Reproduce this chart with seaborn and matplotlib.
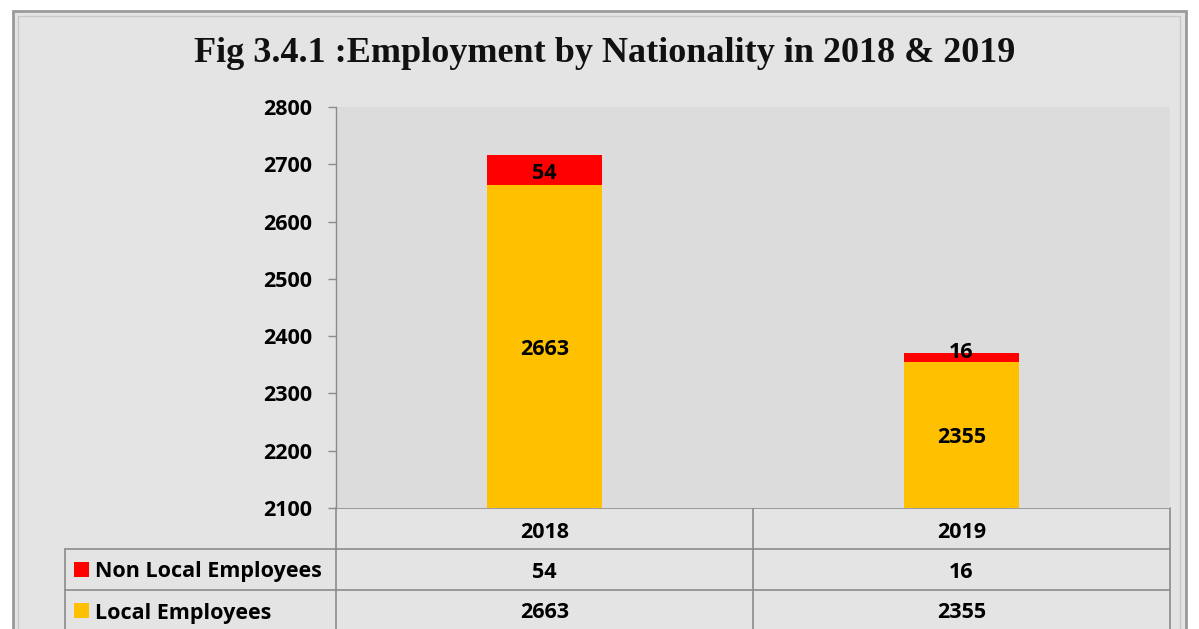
import matplotlib
matplotlib.use("Agg")
import matplotlib.pyplot as plt
import seaborn as sns
import pandas as pd
from matplotlib.patches import Rectangle
from matplotlib.transforms import offset_copy

years = ["2018", "2019"]
local_employees = [2663, 2355]
non_local_employees = [54, 16]
series_names = ["Non Local Employees", "Local Employees"]
title = "Fig 3.4.1 :Employment by Nationality in 2018 & 2019"
yticks = [2100, 2200, 2300, 2400, 2500, 2600, 2700, 2800]

sns.set_theme(style="white")
plt.rcParams['font.family'] = ['Open Sans', 'DejaVu Sans']

W, H = 1199, 629
fig = plt.figure(figsize=(W / 100, H / 100), dpi=100, facecolor="white")

def fx(px):
    return px / W

def fy(py):
    return 1 - py / H

FS = 15.5
DY = 3  # px downward shift for text centring

# outer chart frame
fig.patches.append(Rectangle((fx(13), fy(640)), fx(1186) - fx(13), fy(11) - fy(640),
                             transform=fig.transFigure, facecolor="#e4e4e4",
                             edgecolor="#9a9a9a", linewidth=2.0, zorder=-10))
fig.patches.append(Rectangle((fx(18), fy(640)), fx(1180) - fx(18), fy(16) - fy(640),
                             transform=fig.transFigure, facecolor="none",
                             edgecolor="#c8c8c8", linewidth=1.0, zorder=-9))

L, R, T, B = 336, 1170, 107, 508
ax = fig.add_axes([fx(L), fy(B), fx(R) - fx(L), fy(T) - fy(B)])
ax.set_zorder(5)
ax.set_facecolor("#dcdcdc")

df = pd.DataFrame({
    "year": years,
    "local": local_employees,
    "total": [a + b for a, b in zip(local_employees, non_local_employees)],
})
sns.barplot(data=df, x="year", y="total", color="#ff0000", saturation=1,
            width=0.275, ax=ax, edgecolor="none")
sns.barplot(data=df, x="year", y="local", color="#ffc000", saturation=1,
            width=0.275, ax=ax, edgecolor="none")

ax.set_ylim(2100, 2800)
ax.set_xlim(-0.5, 1.5)
ax.set_yticks(yticks)
ax.set_yticklabels([str(t) for t in yticks], fontsize=FS, fontweight="bold", color="black")
ax.tick_params(axis="y", length=6, width=1, color="#8c8c8c", pad=11, left=True)
ax.tick_params(axis="x", bottom=False, labelbottom=False)
ax.set_xlabel("")
ax.set_ylabel("")
for s in ["top", "right", "bottom"]:
    ax.spines[s].set_visible(False)
ax.spines["left"].set_color("#8c8c8c")
ax.spines["left"].set_linewidth(1)

tr = offset_copy(ax.transData, fig=fig, x=0, y=-DY, units="dots")
for i in range(len(years)):
    lo = local_employees[i]
    nl = non_local_employees[i]
    ax.text(i, (2100 + lo) / 2, str(lo), ha="center", va="center", transform=tr,
            fontsize=FS, fontweight="bold", color="black")
    ymid = lo + nl / 2
    if nl < 30:
        ymid = lo + nl + 5
    ax.text(i, ymid, str(nl), ha="center", va="center", transform=tr,
            fontsize=FS, fontweight="bold", color="black")

fig.text(fx(605), fy(54), title, ha="center", va="center", fontsize=26,
         fontweight="bold", family=["Liberation Serif", "DejaVu Serif"], color="#111111")

grid_c = "#8c8c8c"
rows_y = [508, 549, 590, 640]
col_x = [65, 336, 753, 1170]
line_kw = dict(transform=fig.transFigure, color=grid_c, linewidth=1.2)
fig.add_artist(plt.Line2D([fx(336), fx(1170)], [fy(508), fy(508)], **line_kw))
for y in rows_y[1:3]:
    fig.add_artist(plt.Line2D([fx(65), fx(1170)], [fy(y), fy(y)], **line_kw))
fig.add_artist(plt.Line2D([fx(65), fx(65)], [fy(549), fy(640)], **line_kw))
for x in col_x[1:]:
    fig.add_artist(plt.Line2D([fx(x), fx(x)], [fy(508), fy(640)], **line_kw))

for j, yr in enumerate(years):
    cx = (col_x[j + 1] + col_x[j + 2]) / 2
    fig.text(fx(cx), fy(529 + DY), yr, ha="center", va="center", fontsize=FS,
             fontweight="bold", color="black")

table_vals = [non_local_employees, local_employees]
key_colors = ["#ff0000", "#ffc000"]
row_centers = [569, 610]
for name, vals, kc, yc in zip(series_names, table_vals, key_colors, row_centers):
    fig.patches.append(Rectangle((fx(74), fy(yc + 8)), fx(89) - fx(74), fy(yc - 7) - fy(yc + 8),
                                 transform=fig.transFigure, facecolor=kc, edgecolor="none"))
    fig.text(fx(95), fy(yc + DY), name, ha="left", va="center", fontsize=FS,
             fontweight="bold", color="black")
    for j, v in enumerate(vals):
        cx = (col_x[j + 1] + col_x[j + 2]) / 2
        fig.text(fx(cx), fy(yc + DY), str(v), ha="center", va="center", fontsize=FS,
                 fontweight="bold", color="black")

fig.savefig("out.png", dpi=100, facecolor="white")
